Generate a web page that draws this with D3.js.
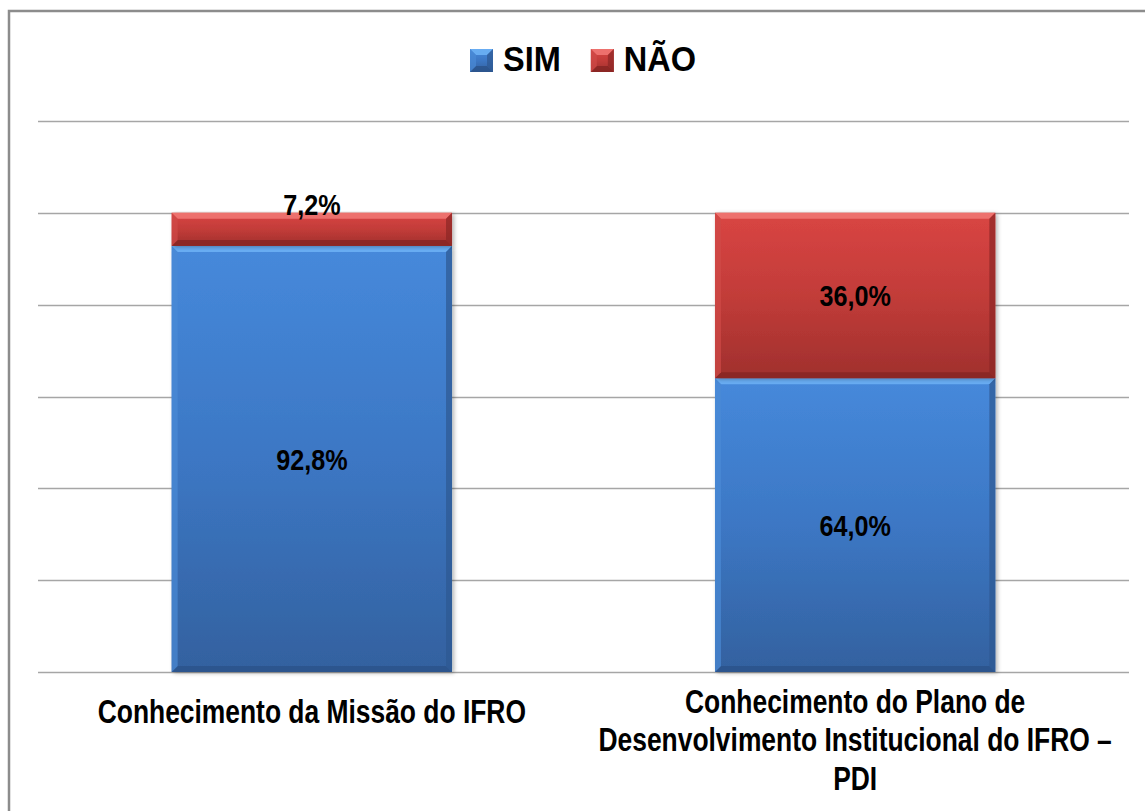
<!DOCTYPE html>
<html>
  <head>
    <meta charset="utf-8">
    <script src="https://d3js.org/d3.v7.min.js"></script>
    <style>
      body { margin: 0; background: #fff; }
      text { font-family: "Liberation Sans Narrow", "Arial Narrow", "Liberation Sans", sans-serif; font-weight: bold; fill: #000; }
    </style>
  </head>
  <body>
    <div class="visual"></div>
    <script>

      // data
      let categories = ['Conhecimento da Missão do IFRO',
                        'Conhecimento do Plano de Desenvolvimento Institucional do IFRO – PDI'];
      let catLines = [['Conhecimento da Missão do IFRO'],
                      ['Conhecimento do Plano de', 'Desenvolvimento Institucional do IFRO –', 'PDI']];
      let series = ['SIM', 'NÃO'];
      let sim = [0.928, 0.640];
      let nao = [0.072, 0.360];
      let yTicks = [0, 0.2, 0.4, 0.6, 0.8, 1.0, 1.2];

      let width = 1145;
      let height = 811;
      let narrow = 0.8; // no narrow font installed, squeeze the regular one

      let svg = d3.select('.visual').append('svg')
        .attr('width', width)
        .attr('height', height);

      let defs = svg.append('defs');

      // body gradients
      let grads = {
        SIM: ['#4689db', '#3c77c4', '#33619f'],
        'NÃO': ['#d94543', '#c23c39', '#a0302d']
      };
      let bevel = {
        SIM: { top: '#6cb0f4', left: '#4a8ad6', right: '#2d5892', bottom: '#2a528a' },
        'NÃO': { top: '#f07672', left: '#d04a47', right: '#8c2725', bottom: '#862422' }
      };
      series.forEach((s, i) => {
        let g = defs.append('linearGradient')
          .attr('id', 'g' + i)
          .attr('x1', 0).attr('y1', 0).attr('x2', 0).attr('y2', 1);
        g.append('stop').attr('offset', '0%').attr('stop-color', grads[s][0]);
        g.append('stop').attr('offset', '50%').attr('stop-color', grads[s][1]);
        g.append('stop').attr('offset', '100%').attr('stop-color', grads[s][2]);
      });

      let shadow = defs.append('filter').attr('id', 'shadow')
        .attr('x', '-5%').attr('y', '-5%').attr('width', '115%').attr('height', '115%');
      shadow.append('feDropShadow')
        .attr('dx', 2).attr('dy', 1).attr('stdDeviation', 2)
        .attr('flood-color', '#000').attr('flood-opacity', 0.3);

      // outer frame
      svg.append('rect')
        .attr('x', 9).attr('y', 11)
        .attr('width', 1150).attr('height', 820)
        .attr('fill', 'none')
        .attr('stroke', '#8c8c8c')
        .attr('stroke-width', 2.5);

      let x = d3.scaleBand()
        .domain(categories)
        .range([38, 1129])
        .paddingInner(0.484)
        .paddingOuter(0.246);

      let y = d3.scaleLinear()
        .domain([0, 1.2])
        .range([672, 121]);

      // gridlines
      svg.append('g')
        .selectAll('line')
        .data(yTicks)
        .enter().append('line')
        .attr('x1', 38).attr('x2', 1129)
        .attr('y1', d => Math.round(y(d)) + 0.5)
        .attr('y2', d => Math.round(y(d)) + 0.5)
        .attr('stroke', '#a6a6a6')
        .attr('stroke-width', 1.5);

      // stacked segments
      let segs = [];
      categories.forEach((c, i) => {
        segs.push({ cat: c, s: 0, y0: 0, y1: sim[i], v: sim[i] });
        segs.push({ cat: c, s: 1, y0: sim[i], y1: sim[i] + nao[i], v: nao[i] });
      });

      let b = 6;
      let bars = svg.append('g');
      segs.forEach(d => {
        let x0 = x(d.cat), x1 = x(d.cat) + x.bandwidth();
        let top = y(d.y1), bot = y(d.y0);
        let name = series[d.s];
        let g = bars.append('g');
        g.append('rect')
          .attr('x', x0).attr('y', top)
          .attr('width', x1 - x0).attr('height', bot - top)
          .attr('fill', 'url(#g' + d.s + ')')
          .attr('filter', 'url(#shadow)');
        let bv = bevel[name];
        let poly = (pts, fill, op) => g.append('polygon')
          .attr('points', pts.map(p => p.join(',')).join(' '))
          .attr('fill', fill).attr('opacity', op);
        poly([[x0, top], [x1, top], [x1 - b, top + b], [x0 + b, top + b]], bv.top, 0.9);
        poly([[x0, bot], [x1, bot], [x1 - b, bot - b], [x0 + b, bot - b]], bv.bottom, 0.8);
        poly([[x0, top], [x0 + b, top + b], [x0 + b, bot - b], [x0, bot]], bv.left, 0.7);
        poly([[x1, top], [x1 - b, top + b], [x1 - b, bot - b], [x1, bot]], bv.right, 0.7);
      });

      let fmt = v => (v * 100).toFixed(1).replace('.', ',') + '%';

      // data labels
      svg.append('g')
        .selectAll('text')
        .data(segs)
        .enter().append('text')
        .attr('transform', d => {
          let top = y(d.y1), bot = y(d.y0);
          let ty = (bot - top < 45) ? top + 2 : (top + bot) / 2 + 11;
          return 'translate(' + (x(d.cat) + x.bandwidth() / 2) + ',' + ty + ') scale(0.84,1)';
        })
        .attr('text-anchor', 'middle')
        .attr('font-size', 30)
        .text(d => fmt(d.v));

      // category labels
      let baseY = [723, 713];
      categories.forEach((c, i) => {
        let t = svg.append('text')
          .attr('transform', 'translate(' + (x(c) + x.bandwidth() / 2) + ',' + baseY[i] + ') scale(' + narrow + ',1)')
          .attr('text-anchor', 'middle')
          .attr('font-size', 33);
        catLines[i].forEach((line, j) => {
          t.append('tspan')
            .attr('x', 0)
            .attr('dy', j === 0 ? 0 : 38.5)
            .text(line);
        });
      });

      // legend
      let legend = svg.append('g');
      let lx = 470;
      let ls = 0.93;
      series.forEach((s, i) => {
        let g = legend.append('g');
        let sx = lx, sy = 49, sz = 23, bb = 6;
        g.append('rect')
          .attr('x', sx).attr('y', sy).attr('width', sz).attr('height', sz)
          .attr('fill', 'url(#g' + i + ')');
        let bv = bevel[s];
        let poly = (pts, fill, op) => g.append('polygon')
          .attr('points', pts.map(p => p.join(',')).join(' '))
          .attr('fill', fill).attr('opacity', op);
        poly([[sx, sy], [sx + sz, sy], [sx + sz - bb, sy + bb], [sx + bb, sy + bb]], bv.top, 0.9);
        poly([[sx, sy + sz], [sx + sz, sy + sz], [sx + sz - bb, sy + sz - bb], [sx + bb, sy + sz - bb]], bv.bottom, 0.8);
        poly([[sx, sy], [sx + bb, sy + bb], [sx + bb, sy + sz - bb], [sx, sy + sz]], bv.left, 0.7);
        poly([[sx + sz, sy], [sx + sz - bb, sy + bb], [sx + sz - bb, sy + sz - bb], [sx + sz, sy + sz]], bv.right, 0.7);
        let t = g.append('text')
          .attr('transform', 'translate(' + (sx + sz + 10) + ',71) scale(' + ls + ',1)')
          .attr('font-size', 35)
          .text(s);
        lx = sx + sz + 10 + t.node().getComputedTextLength() * ls + 30;
      });
    </script>
  </body>
</html>
